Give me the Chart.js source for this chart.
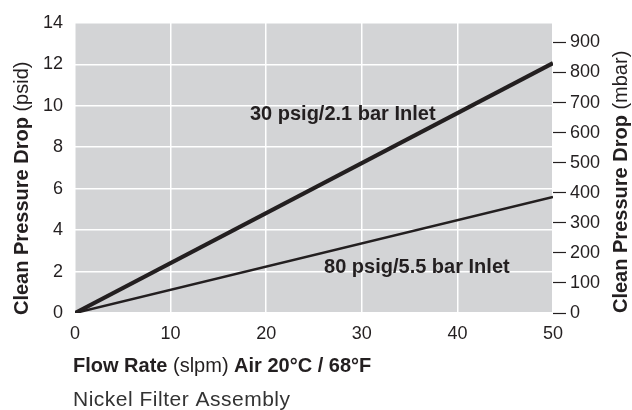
<!DOCTYPE html>
<html>
<head>
<meta charset="utf-8">
<script src="https://cdn.jsdelivr.net/npm/chart.js@4"></script>
<style>
  body { margin: 0; background: #fff; }
  #wrap { width: 632px; height: 410px; position: relative; }
</style>
</head>
<body>
<div id="wrap"><canvas id="chart1"></canvas></div>
<script>
const flowRate = [0, 50];
const drop30psig = [0, 12.05];
const drop80psig = [0, 5.6];
const psiTicks = [0, 2, 4, 6, 8, 10, 12, 14];
const mbarTicks = [0, 100, 200, 300, 400, 500, 600, 700, 800, 900];
const flowTicks = [0, 10, 20, 30, 40, 50];
const label30 = "30 psig/2.1 bar Inlet";
const label80 = "80 psig/5.5 bar Inlet";
const MBAR_PER_PSI = 68.948;

const ink = "#231f20";
const fontFam = "'Liberation Sans', Arial, sans-serif";

// draw text made of runs with different weights, optional rotation
function drawRuns(ctx, runs, x, y, angle, spacing) {
  ctx.save();
  ctx.translate(x, y);
  if (angle) ctx.rotate(angle);
  ctx.textAlign = "left";
  ctx.textBaseline = "alphabetic";
  if (spacing) ctx.letterSpacing = spacing;
  let pos = 0;
  runs.forEach((r) => {
    ctx.font = r.font;
    ctx.fillStyle = r.color || ink;
    ctx.fillText(r.text, pos, 0);
    pos += ctx.measureText(r.text).width;
  });
  ctx.restore();
}

const plotBg = {
  id: "plotBg",
  beforeDraw(chart) {
    const { ctx, chartArea: a } = chart;
    ctx.save();
    ctx.fillStyle = "#d3d4d6";
    ctx.fillRect(a.left, a.top, a.right - a.left, a.bottom - a.top);
    ctx.restore();
  },
};

const texts = {
  id: "texts",
  afterDraw(chart) {
    const ctx = chart.ctx;
    const xs = chart.scales.x, ys = chart.scales.y;
    const b = "bold 20px " + fontFam, n = "20px " + fontFam;
    drawRuns(ctx, [{ text: "Clean Pressure Drop ", font: b }, { text: "(psid)", font: n }], 28, 315, -Math.PI / 2);
    drawRuns(ctx, [{ text: "Clean Pressure Drop ", font: b }, { text: "(mbar)", font: n }], 627, 313, -Math.PI / 2);
    drawRuns(ctx, [
      { text: "Flow Rate ", font: b },
      { text: "(slpm) ", font: n },
      { text: "Air 20°C / 68°F", font: b },
    ], 73, 372, 0);
    drawRuns(ctx, [{ text: "Nickel Filter Assembly", font: "21px " + fontFam, color: "#333" }], 73, 406, 0, "0.5px");
    const af = "bold 20px " + fontFam;
    drawRuns(ctx, [{ text: label30, font: af }], xs.getPixelForValue(18.3), ys.getPixelForValue(9.33), 0);
    drawRuns(ctx, [{ text: label80, font: af }], xs.getPixelForValue(26.05), ys.getPixelForValue(1.93), 0);
  },
};

const ctx = document.getElementById("chart1");

const chart = new Chart(ctx, {
  type: "line",
  data: {
    datasets: [
      {
        label: label30,
        data: flowRate.map((f, i) => ({ x: f, y: drop30psig[i] })),
        borderColor: ink,
        borderWidth: 4.2,
        pointRadius: 0,
        yAxisID: "y",
      },
      {
        label: label80,
        data: flowRate.map((f, i) => ({ x: f, y: drop80psig[i] })),
        borderColor: ink,
        borderWidth: 2.5,
        pointRadius: 0,
        yAxisID: "y",
      },
    ],
  },
  options: {
    responsive: true,
    maintainAspectRatio: false,
    animation: false,
    layout: { padding: { top: 13, left: 0, right: 0, bottom: 0 } },
    plugins: { legend: { display: false }, tooltip: { enabled: false } },
    scales: {
      x: {
        type: "linear",
        min: flowTicks[0],
        max: flowTicks[flowTicks.length - 1],
        afterBuildTicks: (s) => { s.ticks = flowTicks.map((v) => ({ value: v })); },
        afterFit: (s) => { s.height = 97; },
        grid: { color: "#ffffff", lineWidth: 1.5, drawTicks: false },
        border: { display: false },
        ticks: { padding: 10, color: ink, font: { family: fontFam, size: 18 } },
      },
      y: {
        position: "left",
        min: psiTicks[0],
        max: psiTicks[psiTicks.length - 1],
        afterBuildTicks: (s) => { s.ticks = psiTicks.map((v) => ({ value: v })); },
        afterFit: (s) => { s.width = 75; },
        grid: { color: "#ffffff", lineWidth: 1.5, drawTicks: false },
        border: { display: false },
        ticks: { padding: 12, color: ink, font: { family: fontFam, size: 18 } },
      },
      y2: {
        position: "right",
        min: 0,
        max: psiTicks[psiTicks.length - 1] * MBAR_PER_PSI,
        afterBuildTicks: (s) => { s.ticks = mbarTicks.map((v) => ({ value: v })); },
        afterFit: (s) => { s.width = 79; },
        grid: { drawOnChartArea: false, drawTicks: true, tickLength: 13, tickColor: ink, tickWidth: 1.2 },
        border: { display: false },
        ticks: { padding: 4, color: ink, font: { family: fontFam, size: 18 } },
      },
    },
  },
  plugins: [plotBg, texts],
});
</script>
</body>
</html>
